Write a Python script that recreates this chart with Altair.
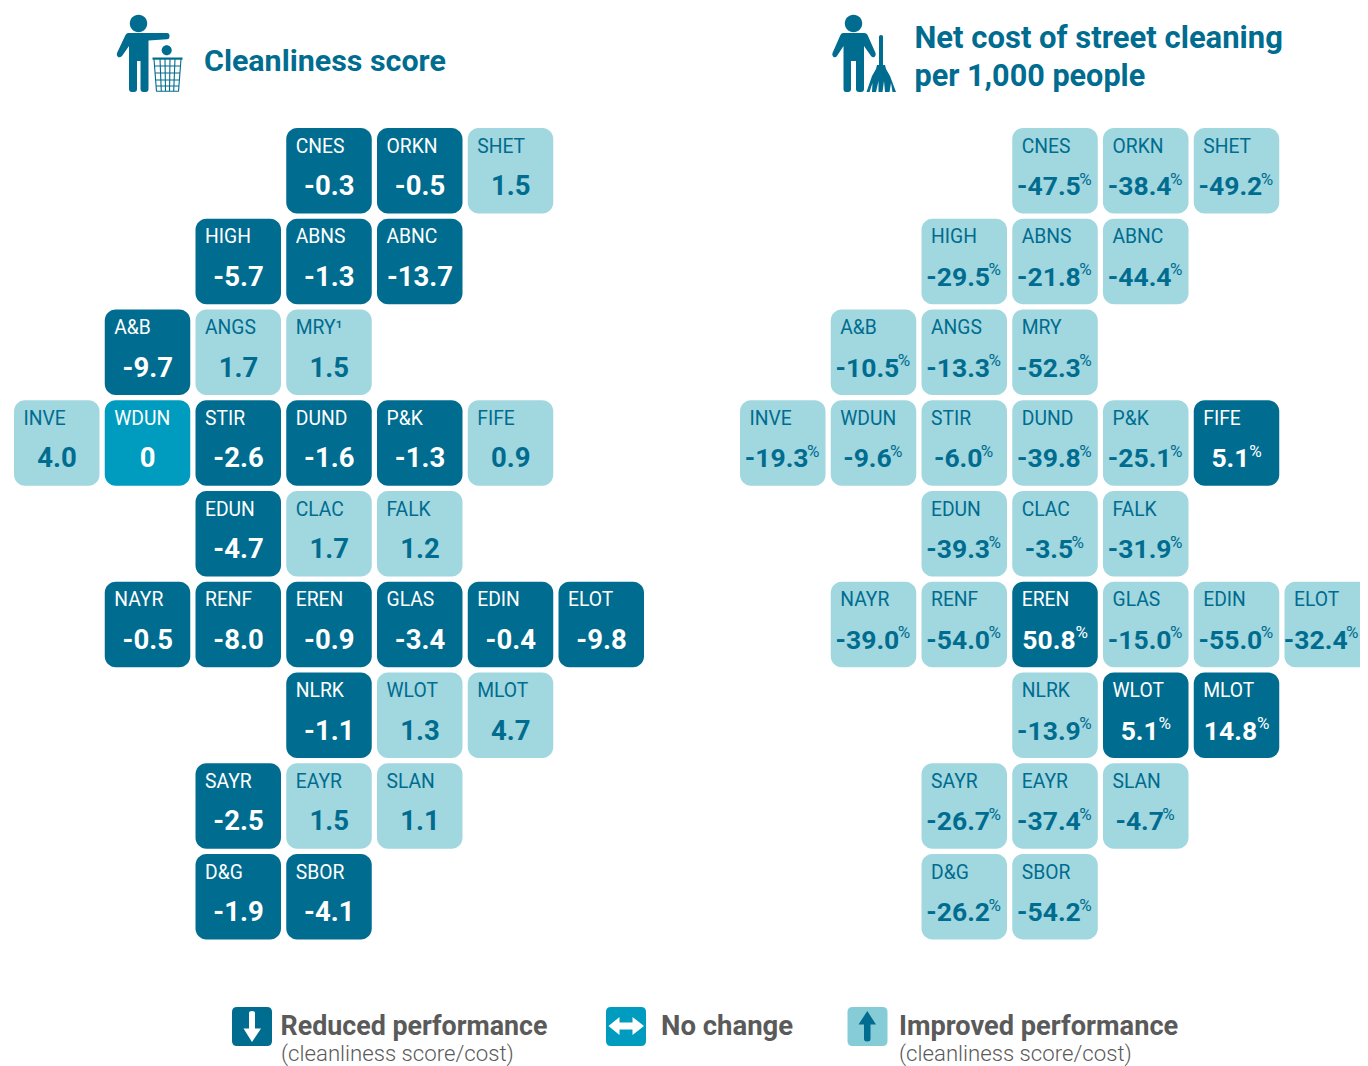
import altair as alt
import pandas as pd

CODES = ["CNES","ORKN","SHET","HIGH","ABNS","ABNC","A&B","ANGS","MRY","INVE","WDUN","STIR","DUND","P&K","FIFE",
         "EDUN","CLAC","FALK","NAYR","RENF","EREN","GLAS","EDIN","ELOT","NLRK","WLOT","MLOT","SAYR","EAYR","SLAN","D&G","SBOR"]
COLS = [3,4,5,2,3,4,1,2,3,0,1,2,3,4,5,2,3,4,1,2,3,4,5,6,3,4,5,2,3,4,2,3]
ROWS = [0,0,0,1,1,1,2,2,2,3,3,3,3,3,3,4,4,4,5,5,5,5,5,5,6,6,6,7,7,7,8,8]
SCORES = ["-0.3","-0.5","1.5","-5.7","-1.3","-13.7","-9.7","1.7","1.5","4.0","0","-2.6","-1.6","-1.3","0.9",
          "-4.7","1.7","1.2","-0.5","-8.0","-0.9","-3.4","-0.4","-9.8","-1.1","1.3","4.7","-2.5","1.5","1.1","-1.9","-4.1"]
COSTS = ["-47.5","-38.4","-49.2","-29.5","-21.8","-44.4","-10.5","-13.3","-52.3","-19.3","-9.6","-6.0","-39.8","-25.1","5.1",
         "-39.3","-3.5","-31.9","-39.0","-54.0","50.8","-15.0","-55.0","-32.4","-13.9","5.1","14.8","-26.7","-37.4","-4.7","-26.2","-54.2"]
TITLE_LEFT = "Cleanliness score"
TITLE_RIGHT = ["Net cost of street cleaning", "per 1,000 people"]
LEGEND = ["Reduced performance", "No change", "Improved performance"]
LEGEND_SUB = "(cleanliness score/cost)"

DARK, MID, LIGHT, SWATCH, GREY = "#006c8f", "#009cc0", "#a1d7df", "#85ccd6", "#5a5a5a"
W, H = 1352, 1058
SX, SY = 90.75, 90.75      # px per grid unit
X0, Y0 = 6, 120            # svg px of grid origin
TW, TH = 85.5, 85.5        # tile size
PANEL = 726 / SX           # offset of right map in grid units
FONT = "Roboto"
FS_L, FS_R, FS_PCT = 27.5, 26.5, 17
PCT_W = 13

CH = {"-": 0.29, ".": 0.27}
def num_w(s, fs):
    return sum(CH.get(c, 0.575) for c in s) * fs

rows = []
for c, cx, r, s, k in zip(CODES, COLS, ROWS, SCORES, COSTS):
    sv, kv = float(s), float(k)
    st = "same" if sv == 0 else ("down" if sv < 0 else "up")
    rows.append(dict(panel="L", code="MRY¹" if c == "MRY" else c, x=cx, y=r, val=s, status=st,
                     num_x=cx + 43 / SX, pct="", pct_x=cx))
    nw = num_w(k, FS_R)
    tile_left = X0 + (cx + PANEL) * SX
    left = 43.2 - (nw + PCT_W) / 2
    left = min(left, W - 1 - tile_left - nw - PCT_W)   # keep the last tile's text inside the page
    rows.append(dict(panel="R", code=c, x=cx + PANEL, y=r, val=k, status="down" if kv > 0 else "up",
                     num_x=cx + PANEL + (left + nw / 2) / SX, pct="%", pct_x=cx + PANEL + (left + nw) / SX))
df = pd.DataFrame(rows)
df["x2"] = df.x + TW / SX
df["y2"] = df.y + TH / SY
df["code_x"] = df.x + 9.5 / SX
df["code_y"] = df.y + 24.5 / SY
df["val_y"] = df.y + 67 / SY
df["pct_y"] = df.y + 56.5 / SY

xs = alt.Scale(domain=[-X0 / SX, (W - X0) / SX], range=[0, W], nice=False, zero=False)
ys = alt.Scale(domain=[-Y0 / SY, (H - Y0) / SY], range=[0, H], nice=False, zero=False)
fill = alt.Scale(domain=["down", "same", "up"], range=[DARK, MID, LIGHT])
ink = alt.Scale(domain=["down", "same", "up"], range=["#ffffff", "#ffffff", DARK])
X = lambda f: alt.X(f, type="quantitative", scale=xs, axis=None)
Y = lambda f: alt.Y(f, type="quantitative", scale=ys, axis=None)
col = alt.Color("status:N", scale=ink, legend=None)

left_df = df[df.panel == "L"]
right_df = df[df.panel == "R"]
base = alt.Chart(df)
tiles = base.mark_rect(cornerRadius=11).encode(
    x=X("x"), x2="x2", y=Y("y"), y2="y2", fill=alt.Fill("status:N", scale=fill, legend=None))
codes = base.mark_text(font=FONT, fontSize=19.3, align="left", baseline="alphabetic").encode(
    x=X("code_x"), y=Y("code_y"), text="code:N", color=col)
vals_l = alt.Chart(left_df).mark_text(font=FONT, fontSize=FS_L, fontWeight="bold", align="center", baseline="alphabetic").encode(
    x=X("num_x"), y=Y("val_y"), text="val:N", color=col)
vals_r = alt.Chart(right_df).mark_text(font=FONT, fontSize=FS_R, fontWeight="bold", align="center", baseline="alphabetic").encode(
    x=X("num_x"), y=Y("val_y"), text="val:N", color=col)
pcts = alt.Chart(right_df).mark_text(font=FONT, fontSize=FS_PCT, fontWeight=400, align="left", baseline="alphabetic").encode(
    x=X("pct_x"), y=Y("pct_y"), text="pct:N", color=col)

def label(txt, x, y, size, color, weight="bold"):
    return alt.Chart(pd.DataFrame({"t": [txt]})).mark_text(
        font=FONT, fontSize=size, fontWeight=weight, align="left", baseline="alphabetic", color=color
    ).encode(x=alt.value(x - 8), y=alt.value(y - 8), text="t:N")

def icon(path, fill=None, stroke=None, sw=1):
    kw = dict(shape=path, size=4, opacity=1)
    if fill:
        kw.update(filled=True, fill=fill, strokeWidth=0)
    else:
        kw.update(filled=False, stroke=stroke, strokeWidth=sw)
    # path coordinates are page pixels: anchor at the page origin, size 4 = 1:1
    return alt.Chart(pd.DataFrame({"a": [0]})).mark_point(**kw).encode(x=alt.value(-8), y=alt.value(-8))

def circle(cx, cy, r):
    return f"M{cx-r},{cy}A{r},{r} 0 1 1 {cx+r},{cy}A{r},{r} 0 1 1 {cx-r},{cy}Z"

def rrect(x0, y0, x1, y1, r):
    return (f"M{x0+r},{y0}L{x1-r},{y0}Q{x1},{y0} {x1},{y0+r}L{x1},{y1-r}Q{x1},{y1} {x1-r},{y1}"
            f"L{x0+r},{y1}Q{x0},{y1} {x0},{y1-r}L{x0},{y0+r}Q{x0},{y0} {x0+r},{y0}Z")

P1 = ("M128,33L167,33Q169.5,33 169.5,36.2Q169.5,39 167,39.3L148.5,40.5L148.5,89Q148.5,92 145.5,92L143.5,92"
      "Q140.5,92 140.5,89L140.5,61L137,61L137,89Q137,92 134,92L132,92Q129,92 129,89L129,46L122,56Q120,58 118,57"
      "Q116,55.5 117,53L125,36Q126.3,33 128,33Z")
P2 = ("M843,33L864,33Q867,33 868,36L875.5,53Q876.5,55.5 874.5,57Q872.5,58 871,56L864,46L864,89Q864,92 861,92L859,92"
      "Q856,92 856,89L856,61L851,61L851,89Q851,92 848,92L846,92Q843.5,92 843.5,89L843.5,46L837,56Q835.5,58 833.5,57"
      "Q831.5,55.5 832.5,53L840,36Q841,33 843,33Z")
BROOM = ("M879,36.5Q879,35 881,35Q883,35 883,36.5L883,65L885,65L886,69L890,76L896,92L892.5,92L891,83L889.5,92L885,92"
         "L884,81L882.5,92L878.5,92L878.5,81L876,92L872,92L872.5,83L869.5,92L866.5,92L872,76L876,69L877,65L879,65Z")
BASKET_RIM = "M152.5,57.5L182.5,57.5L182.5,59.7L152.5,59.7Z"
vlines = "".join(f"M{a},59L{b},91.5" for a, b in [(154,156.5),(160,161.3),(165,165.5),(170,169.5),(175,173.7),(181,178.5)])
hlines = "".join(f"M{a},{y}L{b},{y}" for y, a, b in [(66,155,180),(73,155.5,179.5),(80,156,179),(86,156.5,178.5),(91.3,156.5,178.5)])
BASKET = vlines + hlines

ARROW_DOWN = "M249,1013Q249,1011 252,1011Q255,1011 255,1013L255,1028.5L261,1028.5L252,1042L243.5,1028.5L249,1028.5Z"
ARROW_BOTH = "M608.5,1026L619.5,1017L619.5,1022.5L632.5,1022.5L632.5,1017L644,1026L632.5,1035L632.5,1029.5L619.5,1029.5L619.5,1035Z"
ARROW_UP = "M867.3,1011L876,1024.5L870.5,1024.5L870.5,1039Q870.5,1041.5 867.3,1041.5Q864,1041.5 864,1039L864,1024.5L858.5,1024.5Z"

layers = [
    tiles, codes, vals_l, vals_r, pcts,
    icon(circle(138.5, 23.5, 8.7), fill=DARK), icon(P1, fill=DARK), icon(circle(166.7, 50.3, 5), fill=DARK),
    icon(BASKET_RIM, fill=DARK), icon(BASKET, stroke=DARK, sw=1.1),
    icon(circle(853.5, 23.5, 8.7), fill=DARK), icon(P2, fill=DARK), icon(BROOM, fill=DARK),
    icon(rrect(232, 1007, 272, 1046, 5), fill=DARK), icon(ARROW_DOWN, fill="#ffffff"),
    icon(rrect(606, 1007, 646, 1046, 5), fill=MID), icon(ARROW_BOTH, fill="#ffffff"),
    icon(rrect(847.5, 1007, 887.5, 1046, 5), fill=SWATCH), icon(ARROW_UP, fill=DARK),
    label(TITLE_LEFT, 204, 71, 30.4, DARK),
    label(TITLE_RIGHT[0], 914.5, 48, 31, DARK),
    label(TITLE_RIGHT[1], 914.5, 86, 30.6, DARK),
    label(LEGEND[0], 280.5, 1035, 26.8, GREY),
    label(LEGEND_SUB, 281, 1061, 22.2, GREY, 300),
    label(LEGEND[1], 661, 1035, 27.5, GREY),
    label(LEGEND[2], 899, 1035, 27.2, GREY),
    label(LEGEND_SUB, 899, 1061, 22.2, GREY, 300),
]

chart = alt.layer(*layers).properties(
    width=W, height=H, padding=0, autosize=alt.AutoSizeParams(type="none"), background="#ffffff",
).configure_view(stroke=None)
chart.save("out.html", embed_options={"renderer": "svg", "actions": False})
